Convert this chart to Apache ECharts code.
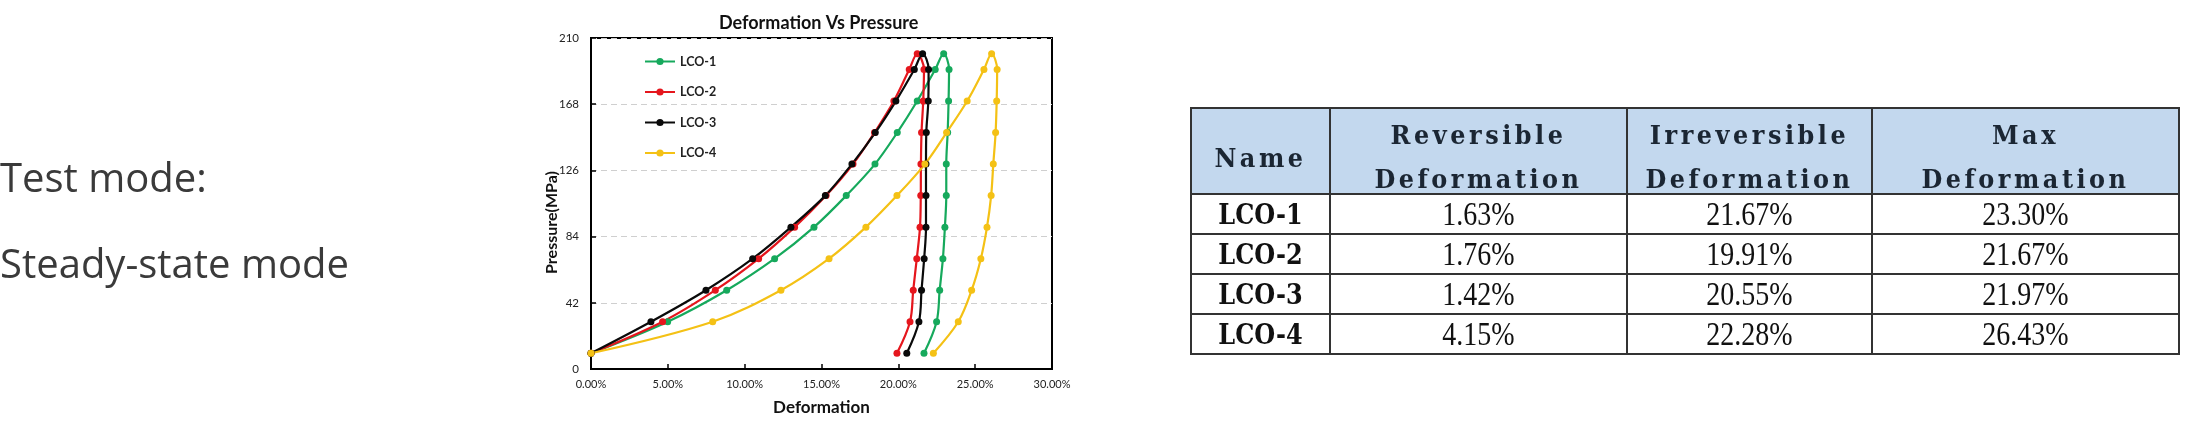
<!DOCTYPE html>
<html>
<head>
<meta charset="utf-8">
<script src="https://cdn.jsdelivr.net/npm/echarts@6/dist/echarts.min.js"></script>
<style>
  html, body { margin:0; padding:0; background:#fff; width:2189px; height:433px; overflow:hidden; }
  #chart { position:absolute; left:0; top:0; width:2189px; height:433px; }
  .side { position:absolute; left:0; font-family:"Open Sans", sans-serif; font-size:40px; color:#3a3a3a; white-space:nowrap; }
  #tbl { position:absolute; left:1190px; top:107px; width:980px; table-layout:fixed; border-collapse:collapse; color:#111; }
  #tbl td, #tbl th { border:2px solid #333; text-align:center; padding:0; white-space:nowrap; overflow:hidden; }
  #tbl th { background:#c3d8ee; font-family:"DejaVu Serif", serif; font-size:24px; font-weight:bold; letter-spacing:3.5px; line-height:41px; height:84px; color:#1b2633; }
  #tbl th div { transform:translateY(6px) scaleY(1.08); }
  #tbl td { height:38px; font-family:"Liberation Serif", serif; font-size:28px; letter-spacing:0px; }
  #tbl td span { display:inline-block; transform:scaleY(1.2); }
  #tbl td.nm { font-family:"DejaVu Serif", serif; font-weight:bold; font-size:24px; letter-spacing:0px; }
  #tbl td.nm span { transform:scaleY(1.15); }
</style>
</head>
<body>
<div id="chart"></div>
<div class="side" id="t1" style="top:149px"></div>
<div class="side" id="t2" style="top:235px"></div>
<table id="tbl"></table>
<script>
// ---- side text ----
const sideLines = ['Test mode:', 'Steady-state mode'];

// ---- chart data ----
const seriesNames = ['LCO-1', 'LCO-2', 'LCO-3', 'LCO-4'];
const seriesColors = ['#16a95c', '#e5161d', '#0a0a0a', '#f4c115'];
// pressure (MPa) for each point along the load / unload cycle
const pressure = [10, 30, 50, 70, 90, 110, 130, 150, 170, 190, 200, 190, 170, 150, 130, 110, 90, 70, 50, 30, 10];
// deformation (%) for each sample
const lco1Def = [0, 4.99, 8.83, 11.95, 14.51, 16.61, 18.48, 19.93, 21.23, 22.40, 22.95, 23.30, 23.27, 23.21, 23.12, 23.12, 23.03, 22.90, 22.69, 22.49, 21.67];
const lco2Def = [0, 4.66, 8.09, 10.91, 13.25, 15.30, 17.05, 18.45, 19.71, 20.71, 21.23, 21.67, 21.62, 21.51, 21.47, 21.46, 21.41, 21.20, 20.97, 20.76, 19.91];
const lco3Def = [0, 3.90, 7.48, 10.52, 13.01, 15.25, 16.98, 18.50, 19.84, 21.04, 21.58, 21.97, 21.95, 21.82, 21.80, 21.80, 21.80, 21.68, 21.51, 21.34, 20.55];
const lco4Def = [0, 7.92, 12.36, 15.49, 17.89, 19.91, 21.73, 23.14, 24.48, 25.57, 26.07, 26.43, 26.40, 26.33, 26.18, 26.04, 25.77, 25.37, 24.77, 23.90, 22.28];
const yTicks = [0, 42, 84, 126, 168, 210];
const xTicks = [0, 5, 10, 15, 20, 25, 30];

// ---- table data ----
const tableHeader = ['Name', 'Reversible\nDeformation', 'Irreversible\nDeformation', 'Max\nDeformation'];
const tableNames = ['LCO-1', 'LCO-2', 'LCO-3', 'LCO-4'];
const reversible = ['1.63%', '1.76%', '1.42%', '4.15%'];
const irreversible = ['21.67%', '19.91%', '20.55%', '22.28%'];
const maxDeformation = ['23.30%', '21.67%', '21.97%', '26.43%'];
const colWidths = [137, 295, 243, 305];

// side text
document.getElementById('t1').textContent = sideLines[0];
document.getElementById('t2').textContent = sideLines[1];

// table
(function buildTable() {
  const tbl = document.getElementById('tbl');
  const trh = document.createElement('tr');
  tableHeader.forEach((h, i) => {
    const th = document.createElement('th');
    th.style.width = colWidths[i] + 'px';
    const div = document.createElement('div');
    h.split('\n').forEach((line, k) => {
      if (k > 0) div.appendChild(document.createElement('br'));
      div.appendChild(document.createTextNode(line));
    });
    th.appendChild(div);
    trh.appendChild(th);
  });
  tbl.appendChild(trh);
  tableNames.forEach((n, r) => {
    const tr = document.createElement('tr');
    [n, reversible[r], irreversible[r], maxDeformation[r]].forEach((v, c) => {
      const td = document.createElement('td');
      if (c === 0) td.className = 'nm';
      const sp = document.createElement('span');
      sp.textContent = v;
      td.appendChild(sp);
      tr.appendChild(td);
    });
    tbl.appendChild(tr);
  });
})();

const defs = [lco1Def, lco2Def, lco3Def, lco4Def];
const chart = echarts.init(document.getElementById('chart'), null, { renderer: 'canvas' });
const font = 'Lato, "Liberation Sans", sans-serif';
chart.setOption({
  animation: false,
  textStyle: { fontFamily: font },
  title: {
    text: 'Deformation Vs Pressure',
    left: 714, top: 9,
    textStyle: { fontSize: 18, fontWeight: 'bold', color: '#111', fontFamily: font }
  },
  legend: {
    orient: 'vertical',
    left: 639, top: 50,
    itemWidth: 30, itemHeight: 9, itemGap: 17.5,
    data: seriesNames,
    textStyle: { fontSize: 12.5, fontWeight: 'bold', color: '#222', lineHeight: 12, fontFamily: font }
  },
  grid: {
    left: 591, top: 38, width: 461, height: 331,
    show: true, borderColor: '#000', borderWidth: 2, backgroundColor: 'transparent'
  },
  xAxis: {
    type: 'value', min: xTicks[0], max: xTicks[xTicks.length - 1], interval: 5,
    name: 'Deformation', nameLocation: 'middle', nameGap: 30,
    nameTextStyle: { fontSize: 17, fontWeight: 'bold', color: '#111', fontFamily: font },
    axisLine: { show: true, lineStyle: { color: '#000', width: 2 } },
    axisTick: { show: true, inside: true, length: 5, lineStyle: { color: '#000', width: 1.5 } },
    axisLabel: { fontSize: 11, color: '#222', margin: 10, formatter: v => v.toFixed(2) + '%' },
    splitLine: { show: false }
  },
  yAxis: {
    type: 'value', min: yTicks[0], max: yTicks[yTicks.length - 1], interval: 42,
    name: 'Pressure(MPa)', nameLocation: 'middle', nameGap: 31, nameMoveOverlap: false,
    nameTextStyle: { fontSize: 16, fontWeight: 'bold', color: '#111', padding: [0, 38, 0, 0], fontFamily: font },
    axisLine: { show: true, lineStyle: { color: '#000', width: 2 } },
    axisTick: { show: true, inside: true, length: 5, lineStyle: { color: '#000', width: 1.5 } },
    axisLabel: { fontSize: 11.5, color: '#222', margin: 12 },
    splitLine: { show: true, lineStyle: { color: '#cfcfcf', type: [6, 4], width: 1 } }
  },
  series: seriesNames.map((name, s) => ({
    name: name,
    type: 'line',
    smooth: 0.35,
    symbol: 'circle',
    symbolSize: 7,
    lineStyle: { width: 2.2, color: seriesColors[s] },
    itemStyle: { color: seriesColors[s] },
    data: defs[s].map((d, i) => [d, pressure[i]])
  }))
});
</script>
</body>
</html>
